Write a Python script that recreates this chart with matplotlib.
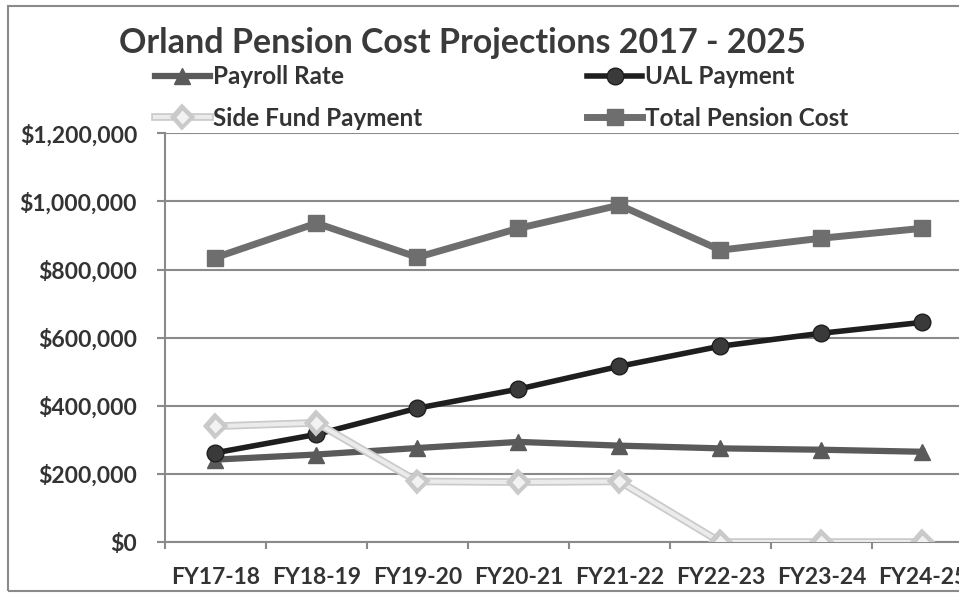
import numpy as np
import matplotlib.pyplot as plt
import matplotlib.patheffects as pe
from matplotlib.patches import Rectangle

years = ["FY17-18", "FY18-19", "FY19-20", "FY20-21", "FY21-22", "FY22-23", "FY23-24", "FY24-25"]

payroll_rate = [242000, 257000, 276000, 294000, 283000, 275000, 271000, 265000]
ual_payment = [262000, 316000, 393000, 449000, 516000, 575000, 613000, 645000]
side_fund = [340000, 350000, 178000, 176000, 178000, 0, 0, 0]
total_cost = [835000, 936000, 836000, 921000, 989000, 857000, 892000, 921000]

plt.rcParams['font.family'] = ['Lato', 'DejaVu Sans']
plt.rcParams['font.weight'] = 'bold'
txt = "#333333"

fig = plt.figure(figsize=(9.59, 5.95), dpi=100)
ax = fig.add_axes([0.172, 0.089, 0.8426, 0.687])

x = np.arange(len(years))
l1, = ax.plot(x, payroll_rate, color="#5a5a5a", lw=4.5, marker="^", ms=11, label="Payroll Rate", zorder=3)
l2, = ax.plot(x, ual_payment, color="#1e1e1e", lw=4, marker="o", ms=12, markerfacecolor="#3a3a3a", label="UAL Payment", zorder=4)
l3, = ax.plot(x, side_fund, color="#ebebeb", lw=3, marker="D", ms=8, markerfacecolor="#f2f2f2",
              markeredgecolor="#c8c8c8", label="Side Fund Payment", zorder=5,
              path_effects=[pe.Stroke(linewidth=5.5, foreground="#cacaca"), pe.Normal()])
l4, = ax.plot(x, total_cost, color="#6e6e6e", lw=5, marker="s", ms=11, label="Total Pension Cost", zorder=6)

ax.set_xlim(-0.5, len(years) - 0.5)
ax.set_ylim(0, 1200000)
ax.set_yticks(np.arange(0, 1200001, 200000))
ax.set_yticklabels(["${:,.0f}".format(v) for v in np.arange(0, 1200001, 200000)])
ax.set_xticks(x)
ax.set_xticklabels(years)
ax.set_xticks(np.arange(-0.5, len(years), 1), minor=True)

ax.grid(axis="y", color="#8a8a8a", lw=1.5, zorder=0)
ax.tick_params(axis="y", length=6, width=1.5, color="#8a8a8a", pad=14, labelsize=16.5, labelcolor=txt)
ax.tick_params(axis="x", which="major", length=0, pad=18, labelsize=16.5, labelcolor=txt)
ax.tick_params(axis="x", which="minor", length=5, width=1.5, color="#8a8a8a")
for s in ["top", "right"]:
    ax.spines[s].set_visible(False)
ax.spines["left"].set_color("#8a8a8a")
ax.spines["bottom"].set_color("#8a8a8a")
ax.spines["left"].set_linewidth(1.5)
ax.spines["bottom"].set_linewidth(1.5)

fig.text(0.482, 0.928, "Orland Pension Cost Projections 2017 - 2025", ha="center", va="center",
         fontsize=24.5, fontweight="bold", color="#3a3a3a")

# legend rows: Payroll / UAL, then Side Fund / Total (matplotlib fills columns first)
leg = fig.legend([l1, l3, l2, l4], [l1.get_label(), l3.get_label(), l2.get_label(), l4.get_label()],
                 loc="upper left", bbox_to_anchor=(0.1616, 0.89), ncol=2, frameon=False,
                 fontsize=17.5, handlelength=2.26, handletextpad=0.12, columnspacing=6.8,
                 labelspacing=0.75, borderpad=0, borderaxespad=0)
for t in leg.get_texts():
    t.set_color(txt)

fig.patches.append(Rectangle((0.008, 0.006), 1.2, 0.984, transform=fig.transFigure,
                             fill=False, edgecolor="#8a8a8a", lw=1.5))

fig.savefig("out.png", dpi=100)
